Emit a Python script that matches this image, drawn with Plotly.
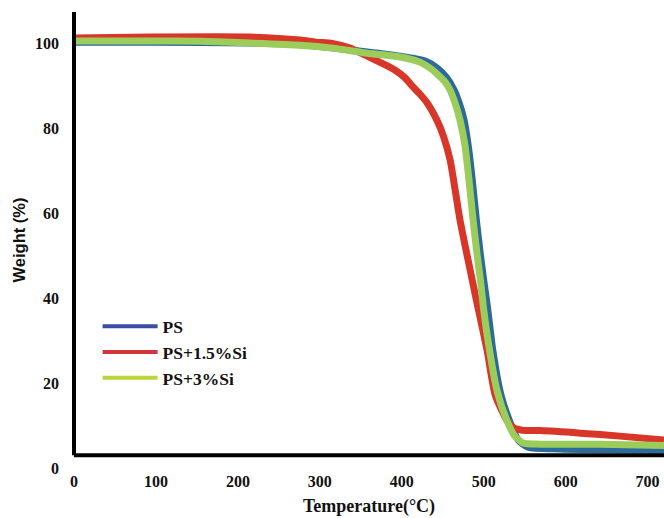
import plotly.graph_objects as go

# TGA curves: temperature (°C) vs residual weight (%)
temp_ps = [0, 93, 215, 276, 358, 398, 428, 443, 455, 464, 470, 476, 481, 486, 491, 496, 500, 505, 511, 521, 532, 542, 554, 593, 720]
weight_ps = [100.2, 100.2, 100.0, 99.6, 97.9, 96.9, 95.8, 94.1, 91.8, 88.9, 85.9, 81.9, 76.0, 67.8, 58.4, 50.1, 44.2, 37.2, 27.8, 17.2, 10.8, 6.6, 4.9, 4.5, 4.2]

temp_si15 = [0, 93, 215, 276, 295, 315, 337, 355, 373, 392, 404, 414, 422, 431, 443, 451, 459, 471, 486, 491, 504, 514, 528, 537, 547, 569, 618, 666, 720]
weight_si15 = [101.2, 101.4, 101.4, 100.7, 100.2, 99.9, 98.8, 97.2, 95.5, 93.6, 91.8, 89.6, 88.0, 85.9, 81.8, 78.0, 72.5, 58.4, 44.2, 39.5, 27.8, 17.2, 11.3, 9.4, 8.9, 8.8, 8.2, 7.5, 6.6]

temp_si3 = [0, 93, 154, 215, 276, 316, 358, 398, 422, 438, 447, 453, 459, 465, 471, 477, 482, 487, 492, 496, 500, 507, 516, 528, 538, 548, 569, 642, 720]
weight_si3 = [100.5, 100.5, 100.4, 100.0, 99.5, 98.8, 97.6, 96.7, 95.5, 93.6, 92.0, 90.8, 88.9, 85.9, 81.9, 76.0, 67.8, 58.4, 50.1, 44.2, 37.2, 27.8, 18.4, 11.3, 7.5, 5.9, 5.6, 5.6, 5.3]

series_names = ["PS", "PS+1.5%Si", "PS+3%Si"]
line_colors = ["#2b6a9c", "#d9362a", "#9ccc5a"]
legend_colors = ["#3c4da8", "#d6363a", "#b8d63a"]

x_ticks = [0, 100, 200, 300, 400, 500, 600, 700]
y_ticks = [0, 20, 40, 60, 80, 100]

serif = "Liberation Serif, Times New Roman, serif"
tick_font = dict(family=serif, size=16, color="#111111", weight="bold")

fig = go.Figure()

curves = [(temp_ps, weight_ps), (temp_si15, weight_si15), (temp_si3, weight_si3)]
for (tx, wy), color in zip(curves, line_colors):
    fig.add_trace(go.Scatter(
        x=tx, y=wy, mode="lines", showlegend=False,
        line=dict(color=color, width=7, shape="spline", smoothing=0.6),
        hoverinfo="skip",
    ))

# legend entries with thinner keys
for name, color in zip(series_names, legend_colors):
    fig.add_trace(go.Scatter(
        x=[None], y=[None], mode="lines", name=name,
        line=dict(color=color, width=4),
    ))

fig.update_layout(
    width=664, height=518,
    margin=dict(l=74, r=0, t=12, b=50),
    paper_bgcolor="white", plot_bgcolor="white",
    showlegend=True,
    legend=dict(
        x=0.04, y=0.35, xanchor="left", yanchor="top",
        font=dict(family=serif, size=17.5, color="#111111", weight="bold"),
        traceorder="normal", itemwidth=55,
        bgcolor="rgba(0,0,0,0)",
    ),
    xaxis=dict(
        range=[0, 720], tickvals=x_ticks, ticktext=[str(v) for v in x_ticks],
        showgrid=False, zeroline=False, showline=False, ticks="",
        tickfont=tick_font, ticklabelstandoff=2,
        title=dict(text="Temperature(°C)", standoff=10,
                   font=dict(family=serif, size=18, color="#111111", weight="bold")),
    ),
    yaxis=dict(
        range=[0, 107.3], tickvals=y_ticks, ticktext=[str(v) for v in y_ticks],
        showgrid=False, zeroline=False, showline=False, ticks="",
        tickfont=tick_font, ticklabelstandoff=14,
        title=dict(text="Weight (%)", standoff=5,
                   font=dict(family="Liberation Sans, Arial, sans-serif", size=16.5, color="#111111", weight="bold")),
    ),
)

# heavy frame lines: baseline sits slightly above zero
fig.add_shape(type="line", xref="paper", yref="y", x0=0, x1=1, y0=3, y1=3,
              line=dict(color="black", width=4))
fig.add_shape(type="line", xref="paper", yref="y", x0=0, x1=0, y0=3, y1=107.3,
              line=dict(color="black", width=4))

fig.write_html("out.html")
